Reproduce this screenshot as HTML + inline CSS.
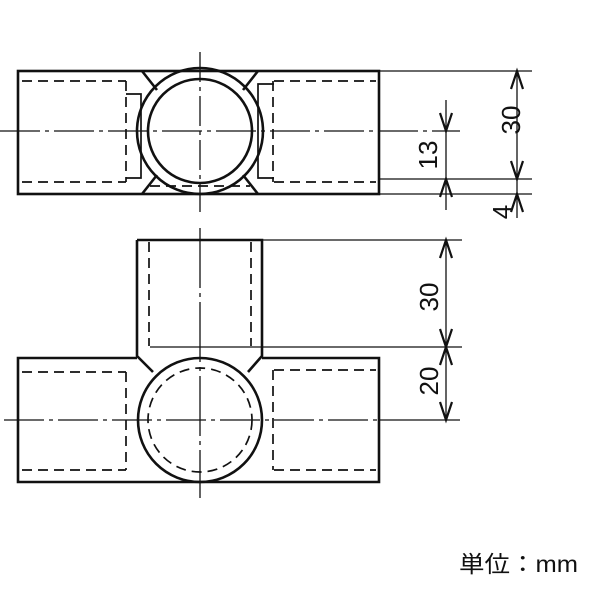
<!DOCTYPE html>
<html><head><style>body{margin:0;background:#fff}svg{display:block}</style></head><body>
<svg width="600" height="600" viewBox="0 0 600 600" xmlns="http://www.w3.org/2000/svg" font-family="'Liberation Sans','Noto Sans CJK JP',sans-serif">
<g stroke="#111" fill="none">
<!-- TOP VIEW -->
<g stroke-width="2.6">
<rect x="18" y="71" width="361" height="123"/>
<circle cx="200" cy="131" r="63"/>
<circle cx="200" cy="131" r="52"/>
<line x1="142" y1="71" x2="157" y2="90"/><line x1="258" y1="71" x2="243" y2="90"/>
<line x1="142" y1="194" x2="157" y2="175"/><line x1="258" y1="194" x2="243" y2="175"/>
</g>
<g stroke-width="1.7" stroke-dasharray="10,6">
<line x1="22" y1="81" x2="126" y2="81"/><line x1="22" y1="182" x2="126" y2="182"/>
<line x1="126" y1="81" x2="126" y2="182"/>
<line x1="274" y1="81" x2="376" y2="81"/><line x1="274" y1="182" x2="376" y2="182"/>
<line x1="273" y1="81" x2="273" y2="182"/>
<path d="M150 186 L250 186"/>
</g>
<g stroke-width="1.7">
<path d="M126 94 H141 V178 H126"/>
<path d="M274 84 H258 V178 H274"/>
</g>
<g stroke-width="1.3">
<line x1="0" y1="131" x2="460" y2="131" stroke-dasharray="40,5,4,5"/>
<line x1="200" y1="52" x2="200" y2="212" stroke-dasharray="30,5,4,5"/>
<line x1="379" y1="71" x2="532" y2="71"/>
<line x1="379" y1="179" x2="532" y2="179"/>
<line x1="379" y1="194" x2="532" y2="194"/>
<line x1="446" y1="100" x2="446" y2="210"/>
<line x1="517" y1="71" x2="517" y2="218"/>
<line x1="262" y1="240" x2="462" y2="240"/>
<line x1="150" y1="347" x2="462" y2="347"/>
<line x1="379" y1="420" x2="460" y2="420"/>
<line x1="446" y1="240" x2="446" y2="420"/>
<line x1="4" y1="420" x2="379" y2="420" stroke-dasharray="40,5,4,5"/>
<line x1="200" y1="228" x2="200" y2="498" stroke-dasharray="60,5,4,5"/>
</g>
<g stroke-width="2.2">
<path d="M440 113 L446 131 L452 113"/><path d="M440 197 L446 179 L452 197"/>
<path d="M511 89 L517 71 L523 89"/><path d="M511 161 L517 179 L523 161"/>
<path d="M511 212 L517 194 L523 212"/>
<path d="M440 258 L446 240 L452 258"/><path d="M440 329 L446 347 L452 329"/>
<path d="M440 365 L446 347 L452 365"/><path d="M440 402 L446 420 L452 402"/>
</g>
<!-- BOTTOM VIEW -->
<g stroke-width="2.6">
<path d="M137 240 H262 V356 L248 372 M137 240 V356 L153 372"/>
<path d="M137 358 H18 V482 H379 V358 H262"/>
<circle cx="200" cy="420" r="62"/>
</g>
<g stroke-width="1.7" stroke-dasharray="10,6">
<line x1="149" y1="242" x2="149" y2="346"/><line x1="251" y1="242" x2="251" y2="346"/>
<line x1="22" y1="372" x2="126" y2="372"/><line x1="22" y1="470" x2="126" y2="470"/>
<line x1="126" y1="372" x2="126" y2="470"/>
<line x1="274" y1="370" x2="376" y2="370"/><line x1="274" y1="470" x2="376" y2="470"/>
<line x1="273" y1="370" x2="273" y2="470"/>
<circle cx="200" cy="420" r="52"/>
</g>
</g>
<g font-size="26" fill="#111">
<text transform="translate(520,120) rotate(-90)" text-anchor="middle">30</text>
<text transform="translate(437,155) rotate(-90)" text-anchor="middle">13</text>
<text transform="translate(511,212) rotate(-90)" text-anchor="middle">4</text>
<text transform="translate(438,297) rotate(-90)" text-anchor="middle">30</text>
<text transform="translate(438,381) rotate(-90)" text-anchor="middle">20</text>
</g>
<text x="459" y="572" font-size="23" fill="#111" textLength="119" lengthAdjust="spacingAndGlyphs">単位：mm</text>
</svg>
</body></html>
